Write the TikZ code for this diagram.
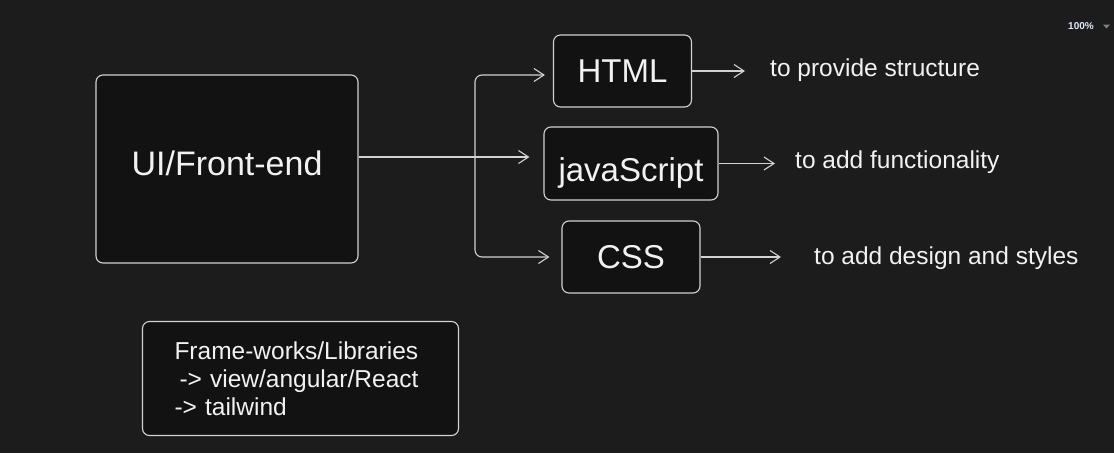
\documentclass[tikz,border=0pt]{standalone}
\usepackage{fontspec}
\setmainfont{Liberation Sans}
\usetikzlibrary{arrows.meta}
\definecolor{canvas}{RGB}{28,28,28}
\definecolor{boxfill}{RGB}{18,18,18}
\definecolor{ink}{RGB}{210,210,210}
\definecolor{chalk}{RGB}{242,242,242}
\definecolor{zoomtext}{RGB}{225,235,250}
\tikzset{block/.style={draw=ink, fill=boxfill, line width=1.1pt, rounded corners=7pt, text=chalk, inner sep=0pt, font=\fontsize{33}{38}\selectfont},
  line/.style={draw=ink, line width=1.1pt, -{Straight Barb[length=10pt,width=13pt]}},
  note/.style={text=chalk, inner sep=0pt, anchor=west, font=\fontsize{24.5}{28}\selectfont}}

\begin{document}
\begin{tikzpicture}[x=1pt,y=-1pt]
    \fill[canvas] (0,0) rectangle (1114,453);
    \useasboundingbox (0,0) rectangle (1114,453);
    \node[block, minimum width=262pt, minimum height=188pt, font=\fontsize{34}{38}\selectfont] (ui) at (227,169) {\raisebox{-6pt}[0pt][0pt]{UI/Front-end}};
    \node[block, minimum width=138pt, minimum height=72pt] (html) at (622.5,71) {HTML};
    \node[block, minimum width=174pt, minimum height=73pt] (js) at (631,163.5) {\raisebox{-18pt}[0pt][0pt]{javaScript}};
    \node[block, minimum width=138pt, minimum height=72pt] (css) at (631,257) {CSS};
    \node[note] (structure) at (770,70) {to provide structure};
    \node[note] (function) at (795,162) {to add functionality};
    \node[note] (design) at (814,258) {to add design and styles};
    \node[block, minimum width=316pt, minimum height=114pt, text width=252pt, align=left, font=\fontsize{24.5}{28}\selectfont] (libs) at (300.5,378.5) {Frame-works/Libraries\\\hspace{5pt}-> view/angular/React\\-> tailwind};
    \node[font=\bfseries\fontsize{10}{12}\selectfont, text=zoomtext, inner sep=0pt] (zoom) at (1081,26) {100\%};
    \fill[gray] (1103,24.5) -- (1110,24.5) -- (1106.5,28.5) -- cycle;
    \coordinate (fork) at (475,157);
    \draw[line, shorten >=14pt] (ui.east |- fork) -- (js.west |- fork);
    \draw[line, rounded corners=7pt, shorten >=8pt] (fork) |- ([yshift=-4pt]html.west);
    \draw[line, rounded corners=7pt, shorten >=12pt] (fork) |- (css.west);
    \draw[line, shorten >=25pt] (html.east) -- (structure.west |- html.east);
    \draw[line, shorten >=20pt] (js.east) -- (function.west |- js.east);
    \draw[line, shorten >=33pt] (css.east) -- (design.west |- css.east);
\end{tikzpicture}
\end{document}
